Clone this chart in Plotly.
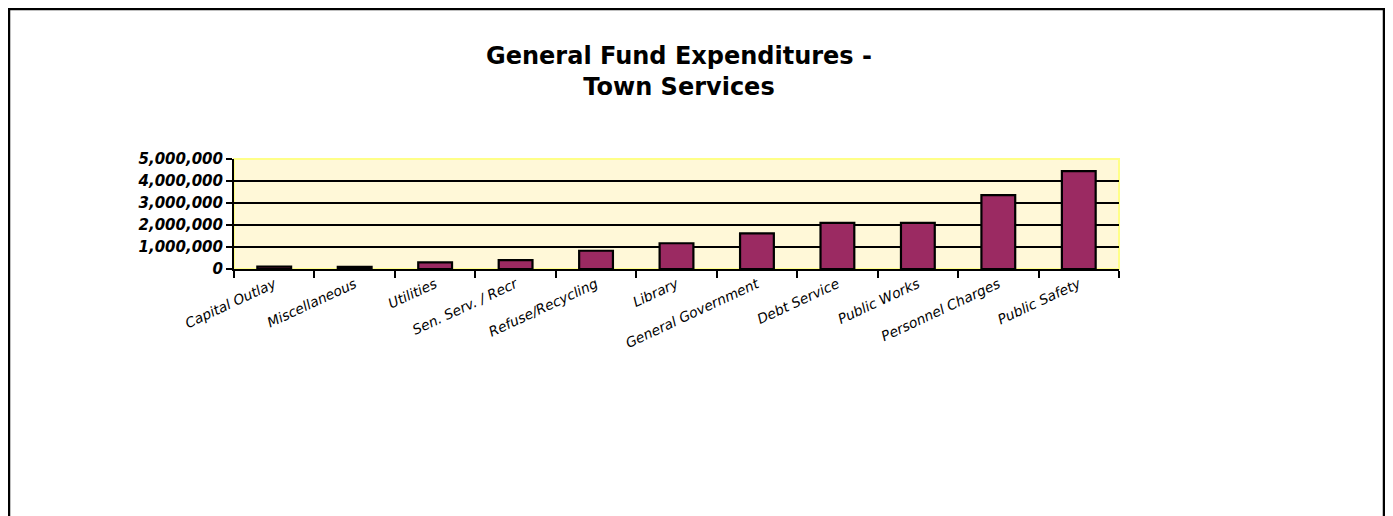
import plotly.graph_objects as go

categories = ["Capital Outlay", "Miscellaneous", "Utilities", "Sen. Serv. / Recr",
              "Refuse/Recycling", "Library", "General Government", "Debt Service",
              "Public Works", "Personnel Charges", "Public Safety"]
values = [110000, 100000, 300000, 400000, 830000, 1170000, 1620000, 2100000,
          2100000, 3360000, 4450000]
y_ticks = [0, 1000000, 2000000, 3000000, 4000000, 5000000]
y_tick_text = ["0", "1,000,000", "2,000,000", "3,000,000", "4,000,000", "5,000,000"]

W, H = 1393, 516
DX, DY = 7, 8  # page offset of the figure inside the browser window
L, R, T, B = 233 - DX, 1118 - DX, 159 - DY, 269 - DY
pw, ph = R - L, B - T

def px(x):
    return (x - L) / pw

def py(y):
    return (B - y) / ph

fig = go.Figure()
fig.add_trace(go.Bar(
    x=categories, y=values, width=0.42,
    marker=dict(color="#9B2A62", line=dict(color="black", width=2.2)),
))

fig.update_layout(
    width=W, height=H,
    margin=dict(l=L, r=W - R, t=T, b=H - B, pad=0),
    paper_bgcolor="white",
    plot_bgcolor="#FFF8D8",
    showlegend=False,
    title=dict(
        text="General Fund Expenditures -<br>Town Services",
        x=(678 - DX) / W, xanchor="center", xref="container",
        y=1 - 56 / H, yanchor="top", yref="container",
        font=dict(family="DejaVu Sans", size=24, color="black", weight="bold"),
    ),
    xaxis=dict(
        type="category", tickson="boundaries", ticks="outside", ticklen=7,
        tickwidth=2, tickcolor="black", showline=True, linecolor="black",
        linewidth=2, showgrid=False, tickangle=-25,
        tickfont=dict(family="DejaVu Sans", size=13.8, color="black",
                      style="italic"),
    ),
    yaxis=dict(
        range=[0, 5000000], tickvals=y_ticks, ticktext=y_tick_text,
        ticks="outside", ticklen=6, tickwidth=2, tickcolor="black",
        showline=True, linecolor="black", linewidth=2,
        showgrid=True, gridcolor="black", gridwidth=2, zeroline=False,
        tickfont=dict(family="DejaVu Sans", size=15, color="black",
                      style="italic", weight="bold"),
    ),
    shapes=[
        dict(type="rect", xref="paper", yref="paper", x0=0, x1=1, y0=0, y1=1,
             line=dict(color="#FFFF88", width=2), layer="below"),
        dict(type="rect", xref="paper", yref="paper",
             x0=px(1), x1=px(1383 - DX), y0=py(H + 20), y1=py(1),
             line=dict(color="black", width=2.5), layer="above"),
    ],
)

fig.write_html("out.html")
